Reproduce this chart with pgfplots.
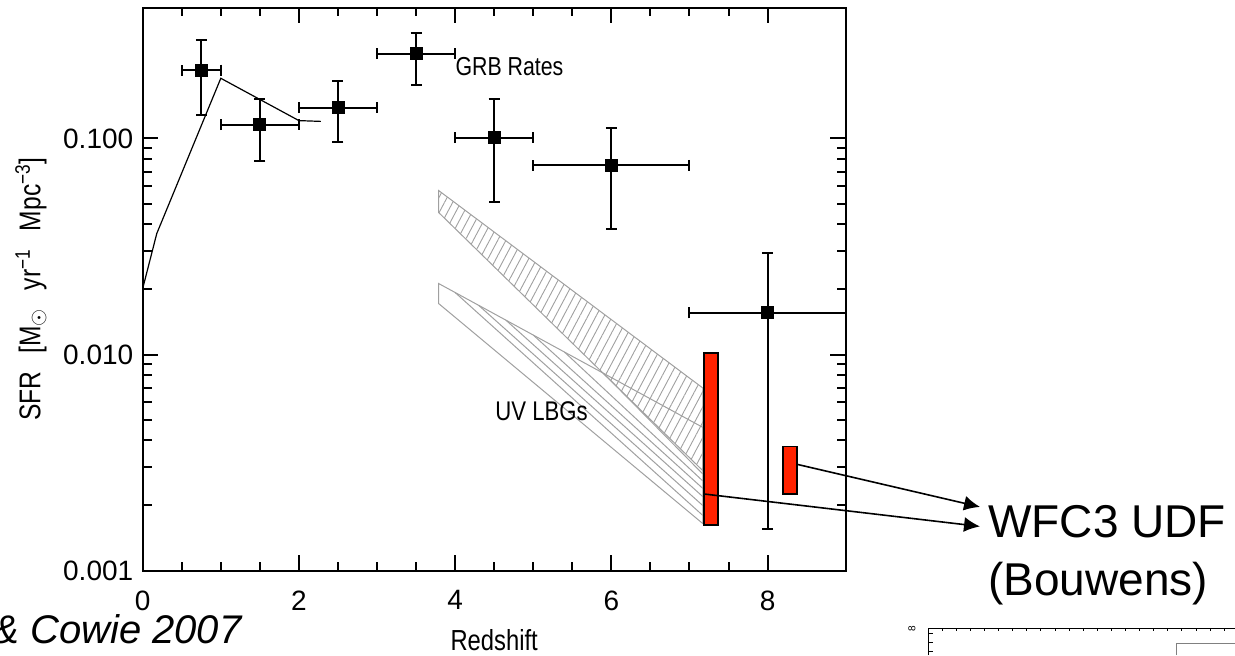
\documentclass[border=0pt]{standalone}
\usepackage{fontspec}
\setmainfont{Liberation Sans}
\newfontfamily\narrow[FakeStretch=0.82]{Liberation Sans}
\usepackage{pgfplots}
\pgfplotsset{compat=1.18}
\usepackage{pgfplotstable}
\usetikzlibrary{patterns.meta,arrows.meta}
\definecolor{wfcred}{HTML}{FF2200}
\definecolor{hatch}{HTML}{A0A0A0}

% GRB-derived star formation rates
\pgfplotstableread{
x    y       ex    ep      em
0.75 0.207   0.25  0.079   0.078
1.5  0.116   0.5   0.036   0.037
2.5  0.139   0.5   0.045   0.043
3.5  0.247   0.5   0.062   0.071
4.5  0.101   0.5   0.051   0.050
6.0  0.075   1.0   0.037   0.037
8.0  0.0156  1.0   0.014   0.01404
}\grbdata

\begin{document}
\begin{tikzpicture}
\begin{axis}[
  scale only axis,
  width=351.5pt, height=281.5pt,
  xmin=0, xmax=9,
  ymode=log, ymin=0.001, ymax=0.404,
  clip=false,
  axis line style={line width=1pt},
  tick align=inside,
  xtick={0,2,4,6,8}, xticklabels={0,2,4,6,8},
  minor x tick num=3,
  ytick={0.001,0.01,0.1}, yticklabels={0.001,0.010,0.100},
  major tick length=7.8pt, minor tick length=4.5pt,
  every tick/.style={black, line width=1pt},
  ticklabel style={font=\fontsize{14}{16}\selectfont},
  xticklabel style={yshift=-6.5pt},
  yticklabel style={xshift=-1.2pt},
  xlabel={Redshift},
  xlabel style={at={(axis description cs:0.5,-0.1234)}, anchor=center,
    font=\narrow\fontsize{14.5}{16}\selectfont},
  ylabel={SFR\hspace{9pt}[M$_\odot$\hspace{9pt}yr\textsuperscript{−1}\hspace{9pt}Mpc\textsuperscript{−3}]},
  ylabel style={at={(axis description cs:-0.159,0.5)}, anchor=center,
    font=\narrow\fontsize{15}{17}\selectfont},
]
% UV LBG bands
\addplot[draw=hatch, line width=0.5pt,
  pattern={Lines[angle=62,distance=3.6pt,line width=0.45pt]}, pattern color=hatch]
  coordinates {(3.79,0.0574) (7.17,0.0070) (7.17,0.0029) (3.79,0.0454)} --cycle;
\addplot[draw=hatch, line width=0.5pt]
  coordinates {(3.79,0.0213) (7.17,0.0046) (7.17,0.00165) (3.79,0.0172)} --cycle;
\addplot[hatch, line width=0.5pt] coordinates {(4.0,0.01936) (7.17,0.0018)};
\addplot[hatch, line width=0.5pt] coordinates {(4.3,0.0169) (7.17,0.0020)};
\addplot[hatch, line width=0.5pt] coordinates {(4.65,0.01442) (7.17,0.0022)};
\addplot[hatch, line width=0.5pt] coordinates {(5.0,0.0123) (7.17,0.0024)};
\addplot[hatch, line width=0.5pt] coordinates {(5.4,0.01026) (7.17,0.0026)};
\addplot[hatch, line width=0.5pt] coordinates {(5.9,0.00818) (7.17,0.0028)};

% model curve
\addplot[black, line width=0.6pt]
  coordinates {(0,0.0202) (0.18,0.0363) (1.0,0.19) (2.0,0.121) (2.28,0.12)};

% GRB points
\addplot[black, only marks, mark=square*, mark size=3pt,
  error bars/.cd, x dir=both, x explicit, y dir=both, y explicit,
  error bar style={line width=1pt},
  error mark options={rotate=90, black, line width=1pt, mark size=2.75pt}]
  table[x=x, y=y, x error=ex, y error plus=ep, y error minus=em] {\grbdata};

% WFC3 UDF constraints
\addplot[fill=wfcred, draw=black, line width=0.9pt]
  coordinates {(7.19,0.00163) (7.37,0.00163) (7.37,0.0102) (7.19,0.0102)} --cycle;
\addplot[fill=wfcred, draw=black, line width=0.9pt]
  coordinates {(8.20,0.00226) (8.38,0.00226) (8.38,0.00375) (8.20,0.00375)} --cycle;

\draw[-{Latex[length=8pt,width=7.5pt]}, line width=0.8pt]
  (axis cs:7.19,0.00226) -- (axis cs:10.72,0.0016);
\draw[-{Latex[length=8pt,width=7.5pt]}, line width=0.8pt]
  (axis cs:8.38,0.0031) -- (axis cs:10.72,0.00197);

\node[anchor=west, inner sep=0pt, font=\narrow\fontsize{13}{15}\selectfont] at (axis cs:4.0,0.215) {GRB Rates};
\node[anchor=west, inner sep=0pt, font=\narrow\fontsize{13.5}{15}\selectfont] at (axis cs:4.51,0.00545) {UV LBGs};
\end{axis}

\node[anchor=base west, inner sep=0pt, font=\fontsize{23}{27}\selectfont] at (422.65pt,16.75pt) {WFC3 UDF};
\node[anchor=base west, inner sep=0pt, font=\fontsize{23}{27}\selectfont] at (422.65pt,-12.25pt) {(Bouwens)};
\node[anchor=base west, inner sep=0pt, font=\itshape\fontsize{20}{24}\selectfont] at (-75.35pt,-36.25pt) {\& Cowie 2007};

% corner of the next figure
\draw[line width=0.5pt] (392.65pt,-42.25pt) -- (392.65pt,-28.75pt) -- (546.15pt,-28.75pt);
\foreach \k in {1,...,21} {
  \draw[line width=0.4pt] (392.65pt+7.05pt*\k,-28.75pt) -- ++(0,-1.4pt);
}
\foreach \yy in {-31.25,-35.75,-40.25} {
  \draw[line width=0.4pt] (392.65pt,\yy pt) -- ++(2.5pt,0);
}
\draw[gray, line width=0.5pt] (516.65pt,-42.25pt) -- (516.65pt,-36.25pt) -- (546.15pt,-36.25pt);
\node[rotate=90, font=\fontsize{5}{6}\selectfont, inner sep=0pt] at (384.65pt,-29.25pt) {8};

\pgfresetboundingbox
\path[use as bounding box] (-71.35pt,-42.25pt) rectangle (546.15pt,285.25pt);
\end{tikzpicture}
\end{document}
